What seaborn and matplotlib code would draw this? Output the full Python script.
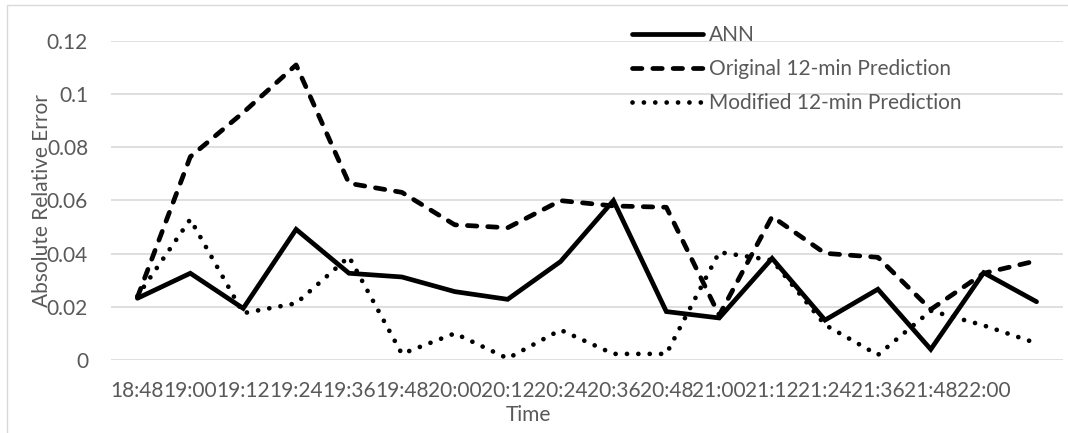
import numpy as np
import matplotlib
matplotlib.use("Agg")
import matplotlib.pyplot as plt
from matplotlib.patches import Rectangle
from matplotlib.ticker import FuncFormatter
import seaborn as sns

# Category labels along the time axis (the last sample has no label)
time_labels = ["18:48", "19:00", "19:12", "19:24", "19:36", "19:48", "20:00",
               "20:12", "20:24", "20:36", "20:48", "21:00", "21:12", "21:24",
               "21:36", "21:48", "22:00"]

# Absolute relative error per sample
ann = [0.0232, 0.0326, 0.0194, 0.0491, 0.0326, 0.0312, 0.0257, 0.0228, 0.0370,
       0.0599, 0.0182, 0.0158, 0.0382, 0.0150, 0.0266, 0.0040, 0.0328, 0.0219]
original = [0.0236, 0.0764, 0.0930, 0.1109, 0.0664, 0.0630, 0.0508, 0.0497, 0.0599,
            0.0579, 0.0574, 0.0168, 0.0539, 0.0401, 0.0386, 0.0190, 0.0326, 0.0373]
modified = [0.0240, 0.0529, 0.0176, 0.0213, 0.0388, 0.0023, 0.0100, 0.0006, 0.0113,
            0.0023, 0.0023, 0.0405, 0.0375, 0.0132, 0.0019, 0.0185, 0.0130, 0.0063]

y_ticks = [0, 0.02, 0.04, 0.06, 0.08, 0.10, 0.12]

sns.set_theme(style="white")
plt.rcParams["font.family"] = ["Lato", "DejaVu Sans"]

W, H = 1068, 433
fig = plt.figure(figsize=(W / 100, H / 100), dpi=100)
ax = fig.add_axes([111 / W, (H - 360) / H, 952 / W, 319.3 / H])

text_gray = "#595959"
grid_gray = "#d9d9d9"
fs = 15
lw = 3.4

steps = np.arange(len(ann))
sns.lineplot(x=steps, y=ann, ax=ax, color="black", linewidth=lw,
             solid_joinstyle="miter", label="ANN")
sns.lineplot(x=steps, y=original, ax=ax, color="black", linewidth=lw,
             linestyle=(0, (2.0, 2.3)), dash_capstyle="round",
             dash_joinstyle="round", label="Original 12-min Prediction")
sns.lineplot(x=steps, y=modified, ax=ax, color="black", linewidth=lw,
             linestyle=(0, (0.01, 2.4)), dash_capstyle="round",
             label="Modified 12-min Prediction")

ax.set_xlim(-0.5, len(ann) - 0.5)
ax.set_ylim(0, 0.12)
ax.set_yticks(y_ticks)
ax.yaxis.set_major_formatter(FuncFormatter(lambda v, p: f"{v:g}"))
ax.set_xticks(np.arange(len(time_labels)))
ax.set_xticklabels(time_labels)
ax.grid(axis="y", color=grid_gray, linewidth=1.2)
ax.grid(axis="x", visible=False)
ax.set_axisbelow(True)
for s in ax.spines.values():
    s.set_visible(False)
ax.tick_params(axis="both", length=0, labelsize=fs, labelcolor=text_gray)
ax.tick_params(axis="y", pad=16.5)
ax.tick_params(axis="x", pad=15)

ax.set_ylabel("Absolute Relative Error", fontsize=fs, color=text_gray)
ax.yaxis.label.set_verticalalignment("center")
ax.yaxis.set_label_coords((42 - 111) / 952, 0.5)
ax.set_xlabel("Time", fontsize=fs, color=text_gray)
ax.xaxis.label.set_verticalalignment("center")
ax.xaxis.set_label_coords((528 - 111) / 952, (360 - 415) / 319.3)

ax.legend(loc="upper left", bbox_to_anchor=(632 / W, 1 - 25 / H),
          bbox_transform=fig.transFigure, frameon=False, borderpad=0,
          borderaxespad=0, handlelength=3.4, handletextpad=0.3,
          labelspacing=0.68, fontsize=fs, labelcolor=text_gray)

# Chart-area border
fig.add_artist(Rectangle((7 / W, -0.1), 1.2, 1.1 - 5 / H, transform=fig.transFigure,
                         fill=False, edgecolor=grid_gray, linewidth=1.0))

fig.savefig("out.png", dpi=100)
